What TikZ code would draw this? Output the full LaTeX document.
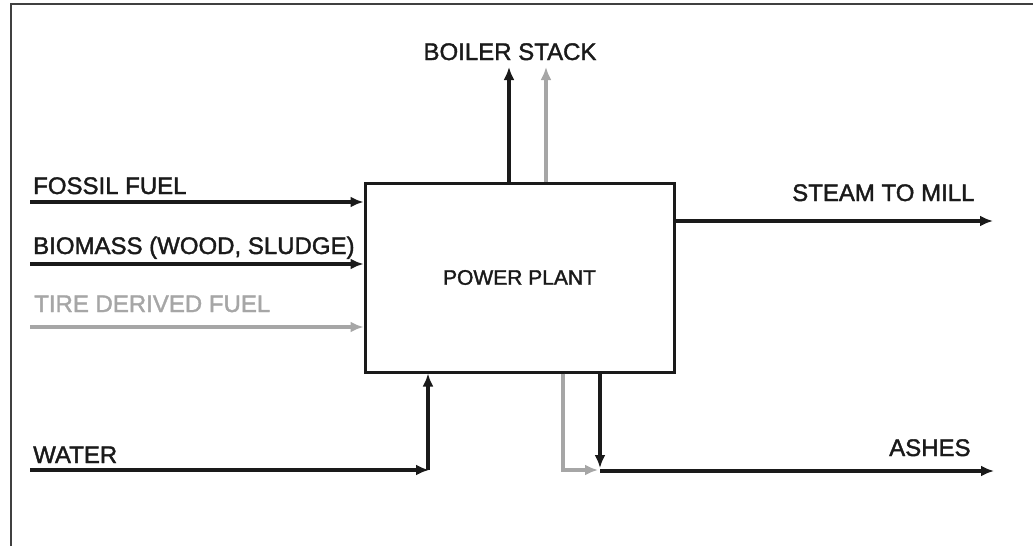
\documentclass[tikz,border=0pt]{standalone}
\usepackage{fontspec}
\setmainfont{Liberation Sans}
\newfontfamily\lblfont{Liberation Sans}[FakeBold=1.6]
\usetikzlibrary{arrows.meta}
\definecolor{lgrey}{HTML}{A6A6A6}
\definecolor{ink}{HTML}{1A1A1A}
\begin{document}
\begin{tikzpicture}[x=1pt,y=-1pt,
  flow/.style={line width=3.4pt,draw=ink,-{Latex[length=13pt,width=11pt]}},
  flowgrey/.style={flow,draw=lgrey},
  lbl/.style={inner sep=0pt,anchor=base west,text=ink,font=\lblfont\fontsize{24}{28}\selectfont},
  boxst/.style={draw=ink,line width=3pt,minimum width=309pt,minimum height=189pt,inner sep=0pt,text=ink,font=\lblfont\fontsize{21}{25}\selectfont}]
\useasboundingbox (0,0) rectangle (1033,546);
% frame
\draw[line width=2pt,draw=black!75] (11,546) -- (11,4) -- (1033,4);
% power plant
\node[boxst] (pp) at (519.5,277.5) {POWER PLANT};
% labels
\node[lbl] (lfos) at (33,194) {FOSSIL FUEL};
\node[lbl] (lbio) at (33,254) {BIOMASS (WOOD, SLUDGE)};
\node[lbl,text=lgrey] (ltire) at (34,312) {TIRE DERIVED FUEL};
\node[lbl] (lwat) at (33,463) {WATER};
\node[lbl,anchor=base] (lboil) at (510,60) {BOILER STACK};
\node[lbl] (lsteam) at (792,201) {STEAM TO MILL};
\node[lbl] (lash) at (889,456) {ASHES};
% coordinates
\coordinate (fos0) at (30,202);
\coordinate (bio0) at (30,264);
\coordinate (tir0) at (30,327);
\coordinate (wat0) at (30,470);
\coordinate (watc) at (428,470);
\coordinate (stk) at (509,67);
\coordinate (stg) at (546,67);
\coordinate (stm) at (993,221);
\coordinate (ashk) at (600,468);
\coordinate (ashg) at (563,470);
\coordinate (ashgt) at (598,470);
\coordinate (ash0) at (600,471);
\coordinate (ash1) at (994,471);
% inputs
\draw[flow] (fos0) -- (fos0 -| pp.west);
\draw[flow] (bio0) -- (bio0 -| pp.west);
\draw[flowgrey] (tir0) -- (tir0 -| pp.west);
\draw[flow,shorten >=-1pt] (wat0) -- (watc);
\draw[flow] (watc) -- (watc |- pp.south);
% outputs
\draw[flow] (stk |- pp.north) -- (stk);
\draw[flowgrey] (stg |- pp.north) -- (stg);
\draw[flow] (stm -| pp.east) -- (stm);
\draw[flowgrey] (ashg |- pp.south) -- (ashg) -- (ashgt);
\draw[flow] (ashk |- pp.south) -- (ashk);
\draw[flow] (ash0) -- (ash1);
\end{tikzpicture}
\end{document}
